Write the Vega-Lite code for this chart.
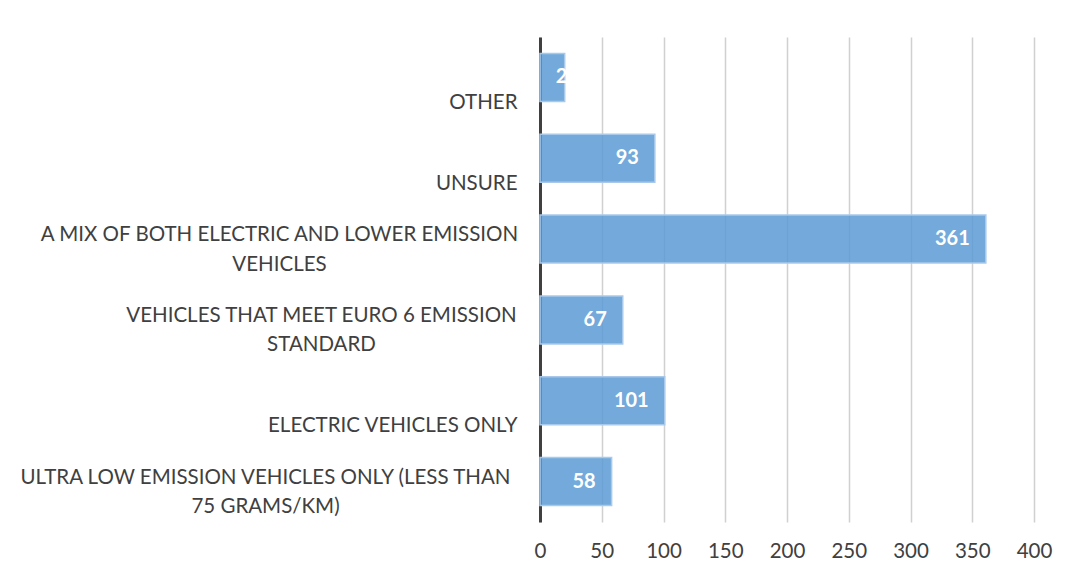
{
  "$schema": "https://vega.github.io/schema/vega-lite/v6.json",
  "autosize": "none",
  "width": 494,
  "height": 485,
  "padding": {"left": 540, "top": 37, "right": 38, "bottom": 57},
  "background": "white",
  "config": {"view": {"stroke": null}, "font": "Lato"},
  "data": {"values": [
    {"category": "OTHER", "value": 20},
    {"category": "UNSURE", "value": 93},
    {"category": "A MIX OF BOTH ELECTRIC AND LOWER EMISSION\nVEHICLES", "value": 361},
    {"category": "VEHICLES THAT MEET EURO 6 EMISSION\nSTANDARD", "value": 67},
    {"category": "ELECTRIC VEHICLES ONLY", "value": 101},
    {"category": "ULTRA LOW EMISSION VEHICLES ONLY (LESS THAN\n75 GRAMS/KM)", "value": 58}
  ]},
  "encoding": {
    "y": {
      "field": "category", "type": "nominal", "sort": null,
      "scale": {"paddingInner": 0.406, "paddingOuter": 0.203},
      "axis": {
        "title": null, "ticks": false, "grid": false,
        "domain": true, "domainColor": "#404040", "domainWidth": 3,
        "labelExpr": "split(datum.label, '\\n')",
        "labelFont": "Lato", "labelFontSize": 20.5, "labelColor": "#404040",
        "labelAlign": {"condition": {"test": "indexof(datum.value, '\\n') >= 0", "value": "center"}, "value": "right"},
        "labelBaseline": "bottom",
        "labelOffset": {"condition": {"test": "indexof(datum.value, '\\n') >= 0", "value": 6}, "value": 35.5},
        "labelPadding": {"condition": [
          {"test": "indexof(datum.value, 'MIX') >= 0", "value": 261},
          {"test": "indexof(datum.value, 'EURO') >= 0", "value": 219},
          {"test": "indexof(datum.value, 'ULTRA') >= 0", "value": 275}
        ], "value": 23},
        "labelLineHeight": 29.5,
        "labelLimit": 600
      }
    },
    "x": {
      "field": "value", "type": "quantitative",
      "scale": {"domain": [0, 400], "nice": false},
      "axis": {
        "title": null, "values": [0, 50, 100, 150, 200, 250, 300, 350, 400],
        "domain": false, "ticks": false, "labelFlush": false,
        "grid": true, "gridColor": "#d0d0d0", "gridWidth": 1.5,
        "labelFont": "Lato", "labelFontSize": 20.5, "labelColor": "#404040",
        "labelPadding": 19
      }
    }
  },
  "layer": [
    {"mark": {"type": "bar", "fill": "#5b9bd5", "fillOpacity": 0.85, "stroke": "#a9c9ea", "strokeWidth": 1.5}},
    {
      "transform": [{"filter": "datum.value >= 30"}],
      "mark": {"type": "text", "align": "right", "baseline": "middle", "dx": -16, "font": "Lato", "fontSize": 20, "fontWeight": "bold", "fill": "white"},
      "encoding": {"text": {"field": "value", "type": "quantitative"}}
    },
    {
      "transform": [{"filter": "datum.value < 30"}],
      "mark": {"type": "text", "align": "left", "baseline": "middle", "dx": -9, "font": "Lato", "fontSize": 20, "fontWeight": "bold", "fill": "white"},
      "encoding": {"text": {"field": "value", "type": "quantitative"}}
    }
  ]
}
